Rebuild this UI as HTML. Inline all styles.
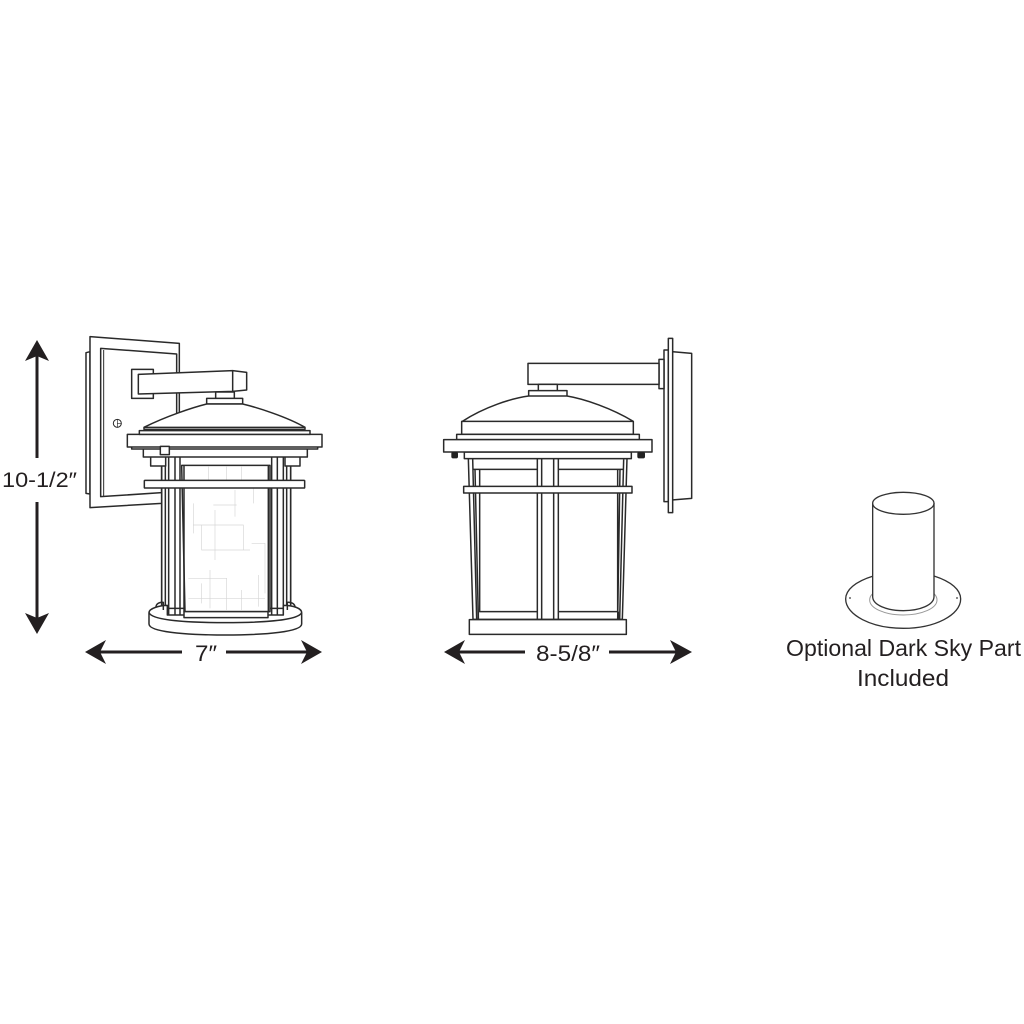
<!DOCTYPE html>
<html><head><meta charset="utf-8"><style>
html,body{margin:0;padding:0;background:#fff}
svg{display:block}
text{font-family:"Liberation Sans",sans-serif;fill:#231f20}
</style></head><body>
<svg width="1024" height="1024" viewBox="0 0 1024 1024" xmlns="http://www.w3.org/2000/svg">
<rect width="1024" height="1024" fill="#fff"/>

<!-- Lantern 1 -->
<g transform="translate(80,330) scale(.33333)" fill="#fff" stroke="#2a2a2a" stroke-width="4.5" stroke-linejoin="round">
<path d="M18 68L30 65V492L18 490Z"/>
<path d="M30 20L298 40V290L245 520L30 533Z"/>
<path d="M62 55L290 72V290H245V488L62 500Z"/>
<path d="M71 60V498" fill="none" stroke-width="3"/>
<circle cx="112" cy="280" r="12" stroke-width="3"/><path d="M112 268V292M112 280H124" stroke-width="2" fill="none"/>
<rect x="155" y="118" width="65" height="87"/>
<path d="M175 133L458 122L500 127V180L458 184L175 192Z"/>
<path d="M458 122V184" fill="none"/>
<rect x="407" y="186" width="56" height="20"/>
<rect x="380" y="205" width="108" height="17"/>
<!-- lower lantern -->
<path d="M245 380H632V835H245Z"/>
<path d="M305 406H570V845H315Z" fill="#fff"/>
<g stroke="#d6d6d6" stroke-width="2" fill="none">
<path d="M385 410V470M440 410V470M485 410V470M520 475V520M340 585H490V660H365V585M405 540V690M340 520V610M400 525H470M465 480V560M515 640H555V790M325 745H440V840M365 760V820M325 805H555M485 780V840M535 735V830M390 720V835M430 660H510"/>
</g>
<path d="M245 380V830M256 380V845M266 380V860M285 380V860M300 380V860M312 406V845" fill="none"/>
<path d="M632 380V830M620 380V845M610 380V860M592 380V860M575 380V860M565 406V845" fill="none"/>
<path d="M207 848C207 835 240 826 262 826V855H610V826C640 826 665 835 665 848V882C665 905 560 915 436 915C310 915 207 905 207 882Z"/>
<path d="M207 848C215 870 310 878 436 878C560 878 655 870 665 848" fill="none"/>
<path d="M228 832C228 820 240 816 250 817V840M645 832C645 820 632 816 622 817V840" fill="none"/>
<rect x="312" y="845" width="252" height="18"/>
<rect x="212" y="378" width="45" height="30" />
<rect x="615" y="378" width="45" height="30" />
<rect x="190" y="355" width="492" height="26"/>
<rect x="155" y="345" width="558" height="12"/>
<rect x="142" y="313" width="584" height="38"/>
<path d="M178 302H690V313H178Z"/>
<path d="M192 292C260 258 340 232 380 222H488C530 232 620 260 675 292V298H192Z"/>
<path d="M192 292H675" fill="none"/>
<rect x="241" y="349" width="27" height="25"/>
<rect x="193" y="451" width="481" height="23" rx="2"/>
</g>

<!-- Lantern 2 -->
<g transform="translate(435,330) scale(.33333)" fill="#fff" stroke="#2a2a2a" stroke-width="4.5" stroke-linejoin="round">
<path d="M710 65L770 70V505L710 510Z"/>
<rect x="687" y="60" width="13" height="455"/>
<rect x="700" y="25" width="13" height="523"/>
<rect x="672" y="88" width="15" height="88"/>
<path d="M672 100H279V163H672Z"/>
<rect x="310" y="163" width="57" height="20"/>
<rect x="281" y="182" width="115" height="18"/>
<path d="M100 385H576L562 868H114Z"/>
<path d="M113 385L125 868M120 418L130 868M134 418V845H307V418H113M548 418V845H370V418H566M555 418L548 868M566 388L554 868M320 385V868M356 385V868M307 385V868M370 385V868" fill="none"/>
<path d="M130 845V868M550 845V868" fill="none"/>
<path d="M82 274C150 230 230 205 281 198H396C450 207 530 235 595 274V313H80V274Z"/>
<path d="M82 274H595" fill="none"/>
<rect x="65" y="313" width="548" height="16"/>
<rect x="88" y="366" width="501" height="20"/>
<rect x="26" y="329" width="625" height="37"/>
<rect x="86" y="469" width="505" height="20"/>
<rect x="103" y="869" width="471" height="44"/>
<rect x="49" y="366" width="20" height="19" rx="5" fill="#222" stroke="none"/>
<rect x="607" y="366" width="23" height="19" rx="5" fill="#222" stroke="none"/>
</g>

<!-- Dark sky part -->
<g transform="translate(830,480) scale(.33333)" fill="#fff" stroke="#333" stroke-linejoin="round">
<path d="M130 288C75 305 47 330 47 357C47 405 125 445 220 445C315 445 392 405 392 357C392 330 365 305 312 288" stroke-width="4"/>
<ellipse cx="220" cy="360" rx="101" ry="45" fill="none" stroke="#999" stroke-width="3"/>
<path d="M128 70V350C128 375 170 392 220 392C270 392 312 375 312 350V70Z" stroke-width="4"/>
<ellipse cx="220" cy="70" rx="92" ry="33" stroke-width="4"/>
<circle cx="60" cy="354" r="3" fill="#666" stroke="none"/><circle cx="381" cy="354" r="3" fill="#666" stroke="none"/>
</g>

<!-- Dimension arrows -->
<g stroke="#231f20" stroke-width="3" fill="none">
<path d="M37 355V458M37 502V620"/>
<path d="M100 652H182M226 652H308M458 652H525M609 652H678"/>
</g>
<g fill="#231f20">
<path d="M37 340L49 361L37 356L25 361Z"/>
<path d="M37 634L49 613L37 618L25 613Z"/>
<path d="M85 652L106 640L100 652L106 664Z"/>
<path d="M322 652L301 640L307 652L301 664Z"/>
<path d="M444 652L465 640L459 652L465 664Z"/>
<path d="M692 652L670 640L676 652L670 664Z"/>
</g>

<text x="2" y="487" font-size="21" textLength="75" lengthAdjust="spacingAndGlyphs">10-1/2″</text>
<text x="195" y="661" font-size="22" textLength="22" lengthAdjust="spacingAndGlyphs">7″</text>
<text x="536" y="661" font-size="22" textLength="64" lengthAdjust="spacingAndGlyphs">8-5/8″</text>
<text x="786" y="656" font-size="23" textLength="235" lengthAdjust="spacingAndGlyphs">Optional Dark Sky Part</text>
<text x="857" y="686" font-size="23" textLength="92" lengthAdjust="spacingAndGlyphs">Included</text>
</svg>
</body></html>
